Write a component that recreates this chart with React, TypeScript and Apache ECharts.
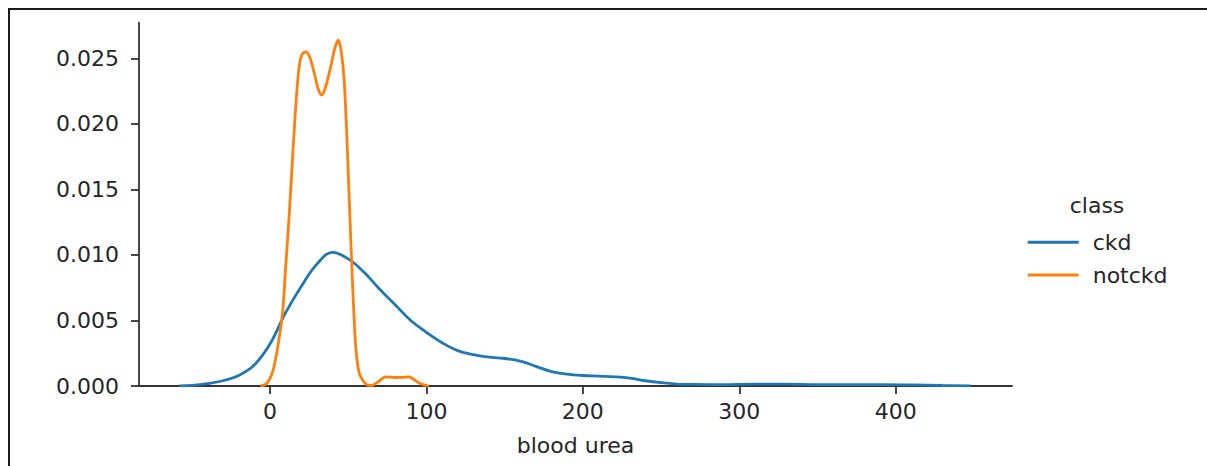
import React, { useEffect, useRef } from "react";
import * as echarts from "echarts";

const ckdX = [-58, -50, -40, -30, -20, -10, 0, 10, 20, 30, 40, 50, 60, 70, 80, 90, 100, 110, 120, 130, 140, 150, 160, 170, 180, 190, 200, 210, 220, 230, 240, 250, 260, 270, 290, 310, 330, 350, 370, 390, 410, 430, 448];
const ckdY = [0.00001, 0.00005, 0.00018, 0.0004, 0.0008, 0.0016, 0.0032, 0.0056, 0.0076, 0.0093, 0.0102, 0.0097, 0.0087, 0.0074, 0.0062, 0.005, 0.0041, 0.0033, 0.0027, 0.0024, 0.0022, 0.0021, 0.0019, 0.0015, 0.0011, 0.0009, 0.0008, 0.00075, 0.0007, 0.0006, 0.0004, 0.00025, 0.00015, 0.00012, 0.0001, 0.00014, 0.00014, 0.0001, 0.0001, 0.0001, 0.00008, 0.00004, 0.00001];

const notckdX = [-6, -2, 2, 5, 8, 10, 12.4, 14, 15.5, 17, 18.7, 20.5, 22.9, 25.5, 28.3, 31, 33.1, 35.5, 38.9, 41.5, 43.8, 45.6, 47.4, 49, 50.6, 52.7, 54.8, 56.5, 58, 62, 65, 69, 74, 80, 85, 89, 92, 95, 98, 101.5];
const notckdY = [0, 0.0002, 0.0012, 0.003, 0.0055, 0.009, 0.0132, 0.0165, 0.0195, 0.0222, 0.0244, 0.0253, 0.0255, 0.0251, 0.0239, 0.0226, 0.0222, 0.0228, 0.0244, 0.0258, 0.0264, 0.0255, 0.0234, 0.0195, 0.0145, 0.0081, 0.003, 0.0013, 0.0007, 0.0001, 0.00005, 0.0003, 0.0007, 0.00065, 0.00066, 0.0007, 0.0005, 0.00025, 0.0001, 0];

const xTicks = [0, 100, 200, 300, 400];
const yTicks = [0, 0.005, 0.01, 0.015, 0.02, 0.025];
const seriesNames = ["ckd", "notckd"];
const legendTitle = "class";
const xAxisName = "blood urea";

const zip = (xs: number[], ys: number[]) => xs.map((x, i) => [x, ys[i]]);

export default function App() {
  const ref = useRef<HTMLDivElement>(null);
  useEffect(() => {
    if (!ref.current) return;
    const chart = echarts.init(ref.current, undefined, { renderer: "svg" });
    const font = "DejaVu Sans";
    const txt = "#262626";
    const axisCol = "#333333";
    chart.setOption({
      animation: false,
      backgroundColor: "#ffffff",
      grid: { left: 139, top: 22.7, width: 873, height: 363.3, containLabel: false, outerBoundsMode: "none" },
      xAxis: {
        type: "value",
        min: -83.7,
        max: 474.3,
        name: xAxisName,
        nameLocation: "middle",
        nameGap: 48,
        nameTextStyle: { fontFamily: font, fontSize: 22, color: txt },
        splitLine: { show: false },
        axisLine: { show: true, onZero: false, lineStyle: { color: axisCol, width: 1.8 } },
        axisTick: { show: true, length: 8, lineStyle: { color: axisCol, width: 1.8 }, customValues: xTicks },
        axisLabel: { customValues: xTicks, margin: 14, fontFamily: font, fontSize: 22, color: txt, formatter: (v: number) => String(v) },
      },
      yAxis: {
        type: "value",
        min: 0,
        max: 0.02773,
        splitLine: { show: false },
        axisLine: { show: true, onZero: false, lineStyle: { color: axisCol, width: 1.8 } },
        axisTick: { show: true, length: 8, lineStyle: { color: axisCol, width: 1.8 }, customValues: yTicks },
        axisLabel: { customValues: yTicks, margin: 20, fontFamily: font, fontSize: 22, color: txt, formatter: (v: number) => v.toFixed(3) },
      },
      legend: {
        orient: "vertical",
        left: 1022.7,
        top: 226.3,
        itemWidth: 51,
        itemHeight: 3,
        itemGap: 10.7,
        icon: "rect",
        textStyle: { fontFamily: font, fontSize: 22, color: txt, lineHeight: 22, padding: [0, 0, 0, 9] },
        data: seriesNames,
      },
      graphic: [
        { type: "text", x: 1097, y: 205, style: { text: legendTitle, align: "center", verticalAlign: "middle", fontFamily: font, fontSize: 22, fill: txt } },
        { type: "line", shape: { x1: 8, y1: 9, x2: 1207, y2: 9 }, style: { stroke: "#1a1a1a", lineWidth: 2 } },
        { type: "line", shape: { x1: 9, y1: 8, x2: 9, y2: 466 }, style: { stroke: "#1a1a1a", lineWidth: 2 } },
      ],
      series: [
        {
          name: seriesNames[0],
          type: "line",
          data: zip(ckdX, ckdY),
          showSymbol: false,
          smooth: 0.4,
          lineStyle: { color: "#1f77b4", width: 2.8 },
          itemStyle: { color: "#1f77b4" },
        },
        {
          name: seriesNames[1],
          type: "line",
          data: zip(notckdX, notckdY),
          showSymbol: false,
          smooth: 0.3,
          lineStyle: { color: "#ff7f0e", width: 2.8 },
          itemStyle: { color: "#ff7f0e" },
        },
      ],
    });
    return () => chart.dispose();
  }, []);
  return <div ref={ref} style={{ position: "fixed", left: 0, top: 0, width: 1207, height: 466 }} />;
}
